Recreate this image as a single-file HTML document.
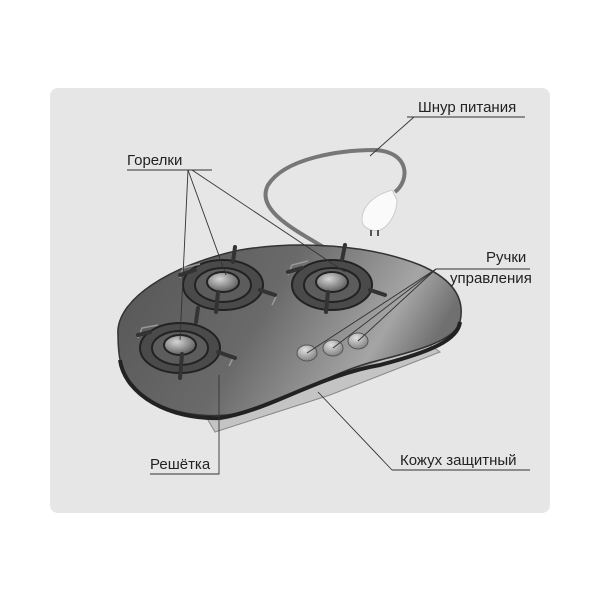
<!DOCTYPE html>
<html><head><meta charset="utf-8"><style>
html,body{margin:0;padding:0;background:#fff;}
svg{display:block}
text{font-family:"Liberation Sans","DejaVu Sans",sans-serif;font-size:15px;fill:#222;}
</style></head><body>
<svg width="600" height="600" viewBox="0 0 600 600">
<defs>
<linearGradient id="top" x1="0" y1="0" x2="1" y2="0.3">
<stop offset="0" stop-color="#555"/><stop offset="0.5" stop-color="#6a6a6a"/><stop offset="0.85" stop-color="#a5a5a5"/><stop offset="1" stop-color="#707070"/>
</linearGradient>
<radialGradient id="cap" cx="0.4" cy="0.35" r="0.7"><stop offset="0" stop-color="#d5d5d5"/><stop offset="1" stop-color="#555"/></radialGradient>
<radialGradient id="knob" cx="0.4" cy="0.3" r="0.8"><stop offset="0" stop-color="#e0e0e0"/><stop offset="1" stop-color="#777"/></radialGradient>
</defs>
<rect x="50" y="88" width="500" height="425" rx="8" fill="#e6e6e7"/>
<path d="M325 248 C 295 230, 255 210, 268 185 C 285 158, 340 150, 375 150 C 410 152, 410 180, 395 192" fill="none" stroke="#777" stroke-width="4"/>
<path d="M392 190 C 375 195, 362 205, 362 220 C 362 228, 372 232, 380 230 C 390 226, 397 212, 397 200 Z" fill="#fafafa" stroke="#ccc"/>
<rect x="370" y="230" width="2" height="6" fill="#555"/><rect x="377" y="230" width="2" height="6" fill="#555"/>
<path d="M205 415 L215 432 L330 395 L440 352 L430 345 Z" fill="#c4c4c4" stroke="#888"/>
<path d="M118 335 C 115 300, 170 265, 240 250 C 300 240, 370 245, 420 265 C 455 280, 465 300, 460 322 C 455 340, 420 350, 380 360 C 330 372, 300 395, 255 410 C 210 422, 160 415, 130 385 C 120 372, 118 350, 118 335 Z" fill="url(#top)" stroke="#333" stroke-width="1.5"/>
<path d="M120 360 C 125 395, 170 420, 220 418 C 270 410, 320 375, 380 365 C 430 352, 458 340, 460 322" fill="none" stroke="#222" stroke-width="4"/>
<g stroke="#222" stroke-width="2">
<ellipse cx="223" cy="285" rx="40" ry="25" fill="#4a4a4a"/>
<ellipse cx="223" cy="285" rx="28" ry="17" fill="#5c5c5c"/>
<ellipse cx="223" cy="282" rx="16" ry="10" fill="url(#cap)"/>
<ellipse cx="332" cy="285" rx="40" ry="25" fill="#4a4a4a"/>
<ellipse cx="332" cy="285" rx="28" ry="17" fill="#5c5c5c"/>
<ellipse cx="332" cy="282" rx="16" ry="10" fill="url(#cap)"/>
<ellipse cx="180" cy="348" rx="40" ry="25" fill="#4a4a4a"/>
<ellipse cx="180" cy="348" rx="28" ry="17" fill="#5c5c5c"/>
<ellipse cx="180" cy="345" rx="16" ry="10" fill="url(#cap)"/>
</g>
<g stroke="#999" stroke-width="1.5" fill="none">
<path d="M180 278 L183 268 L200 264 M266 292 L276 297 L272 305"/>
<path d="M288 275 L292 265 L308 261 M375 292 L385 297 L381 305"/>
<path d="M138 338 L142 328 L158 325 M222 352 L233 358 L229 366"/>
</g>
<g stroke="#333" stroke-width="4" fill="none" stroke-linecap="round">
<path d="M235 247 L233 262 M218 292 L216 312 M180 275 L195 270 M260 290 L275 295"/>
<path d="M345 245 L342 260 M328 292 L326 312 M288 272 L302 268 M370 290 L385 295"/>
<path d="M198 308 L196 322 M182 354 L180 378 M138 335 L150 332 M218 352 L235 358"/>
</g>
<g stroke="#555"><ellipse cx="307" cy="353" rx="10" ry="8" fill="url(#knob)"/><ellipse cx="333" cy="348" rx="10" ry="8" fill="url(#knob)"/><ellipse cx="358" cy="341" rx="10" ry="8" fill="url(#knob)"/></g>
<g stroke="#333" stroke-width="0.9" fill="none">
<path d="M127 170 L212 170"/><path d="M188 170 L180 340"/><path d="M188 170 L226 275"/><path d="M192 170 L345 272"/>
<path d="M407 117 L525 117"/><path d="M414 117 L370 156"/>
<path d="M436 269 L530 269"/><path d="M436 269 L307 353"/><path d="M436 269 L333 348"/><path d="M436 269 L358 341"/>
<path d="M150 474 L219 474 L219 375"/>
<path d="M392 470 L530 470"/><path d="M392 470 L318 392"/>
</g>
<text x="127" y="165">Горелки</text>
<text x="418" y="112">Шнур питания</text>
<text x="486" y="262">Ручки</text>
<text x="450" y="283">управления</text>
<text x="150" y="469">Решётка</text>
<text x="400" y="465">Кожух защитный</text>
</svg>
</body></html>
